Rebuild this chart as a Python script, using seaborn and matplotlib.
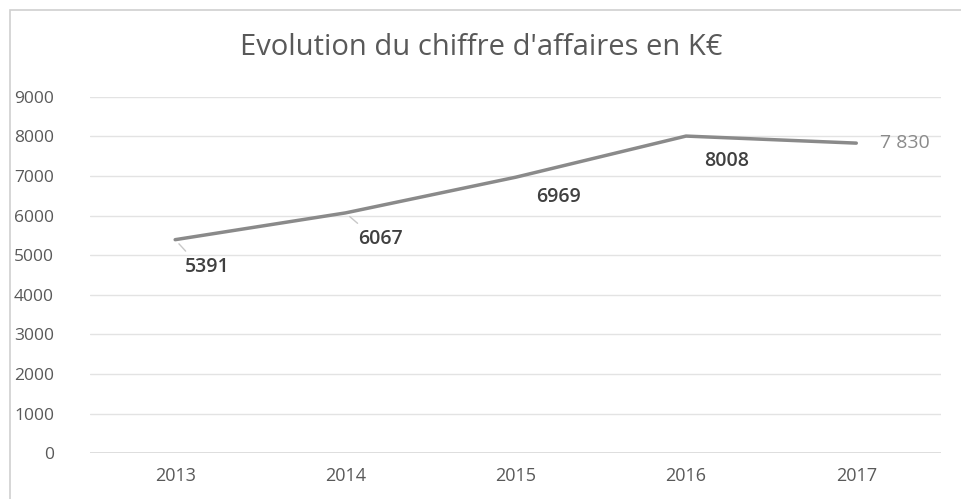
import numpy as np
import pandas as pd
import seaborn as sns
from matplotlib import pyplot as plt
from matplotlib.patches import Rectangle

years = ['2013', '2014', '2015', '2016', '2017']
ca = [5391, 6067, 6969, 8008, 7830]
labels = ['5391', '6067', '6969', '8008', '7 830']
# label offsets in points (dx, dy), leader line yes/no
offsets = [(23, -20), (25, -19), (31, -14), (29, -18), (35, 0)]
leaders = [True, True, False, False, False]

sns.set_theme(style='white')
plt.rcParams['font.family'] = ['Open Sans', 'DejaVu Sans']

df = pd.DataFrame({'annee': years, 'ca': ca})

fig = plt.figure(figsize=(9.62, 4.99), dpi=100)
ax = fig.add_axes([0.0936, 0.092, 0.885, 0.714])
sns.lineplot(data=df, x='annee', y='ca', color='#8a8a8a', linewidth=2.5, sort=False, ax=ax)

ax.set_ylim(0, 9000)
ax.set_xlim(-0.5, 4.5)
ax.set_yticks(range(0, 9001, 1000))
ax.grid(axis='y', color='#e3e3e3', linewidth=1)
for s in ax.spines.values():
    s.set_visible(False)
ax.axhline(0, color='#d9d9d9', linewidth=1.2)
ax.tick_params(axis='y', labelsize=12.5, labelcolor='#595959', pad=26, length=0)
ax.tick_params(axis='x', labelsize=13, labelcolor='#595959', pad=10, length=0)
ax.set_xlabel('')
ax.set_ylabel('')

for i, (v, lab, (dx, dy), ld) in enumerate(zip(ca, labels, offsets, leaders)):
    col = '#8a8a8a' if i == 4 else '#404040'
    ax.annotate(lab, xy=(i, v), xytext=(dx, dy), textcoords='offset points',
                ha='center', va='center', fontsize=14, color=col,
                fontweight='normal' if i == 4 else 'semibold',
                arrowprops=dict(arrowstyle='-', color='#c8c8c8', lw=1, relpos=(0.15, 1),
                                shrinkA=3, shrinkB=4) if ld else None)

fig.text(0.5, 0.905, "Evolution du chiffre d'affaires en K€", ha='center', va='center',
         fontsize=21, color='#595959')

fig.patches.append(Rectangle((10 / 962, -0.05), 1.2, 1 - 10 / 499 + 0.05,
                             transform=fig.transFigure, fill=False,
                             edgecolor='#d0d0d0', linewidth=1.2))

fig.savefig('out.png', dpi=100)
